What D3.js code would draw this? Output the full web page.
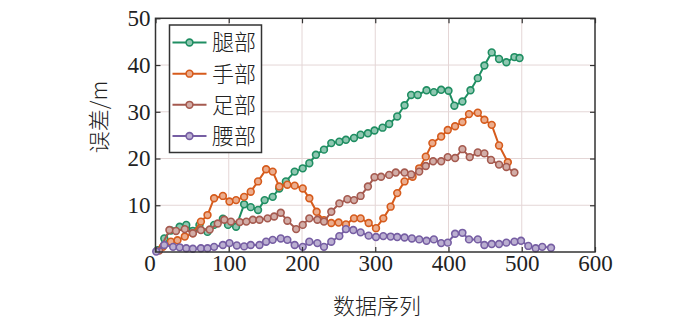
<!DOCTYPE html>
<html><head><meta charset="utf-8">
<script src="https://cdn.jsdelivr.net/npm/d3@7"></script>
<style>
html,body{margin:0;padding:0;background:#fff;}
svg{display:block;}
</style>
</head><body>
<svg id="chart" width="700" height="322"></svg>
<script>
const seriesNames = ["腿部", "手部", "足部", "腰部"];
const seriesColors = ["#1f8e62", "#d65b1c", "#a55a4f", "#765ea3"];

const legX = [3, 12, 21, 33, 42, 51, 60, 71, 80, 92, 99, 110, 121, 130, 140, 149, 160, 169, 178, 190, 201, 210, 219, 230, 240, 251, 260, 271, 280, 290, 299, 310, 319, 330, 340, 349, 358, 370, 380, 390, 400, 408, 419, 430, 440, 449, 459, 469, 479, 490, 497];
const legY = [0.4, 2.9, 4.6, 5.4, 5.8, 4.5, 5.8, 4.3, 5.8, 7.1, 5.8, 5.4, 10.2, 9.6, 9.0, 11.1, 11.8, 13.6, 15.1, 17.2, 17.9, 19.0, 20.8, 21.9, 23.3, 23.6, 24.0, 24.4, 25.1, 25.4, 26.0, 26.6, 27.4, 29.0, 31.4, 33.6, 33.6, 34.6, 34.2, 34.7, 34.5, 31.3, 32.2, 34.6, 37.2, 39.9, 42.7, 41.3, 40.6, 41.7, 41.5];

const handX = [10, 21, 30, 40, 51, 62, 71, 80, 92, 101, 110, 121, 130, 140, 151, 160, 169, 180, 190, 201, 210, 220, 230, 240, 250, 260, 271, 280, 291, 301, 311, 321, 330, 340, 351, 360, 369, 378, 390, 399, 409, 419, 428, 440, 449, 459, 469, 481];
const handY = [1.1, 2.2, 2.5, 3.3, 4.0, 6.5, 7.9, 11.5, 12.0, 10.8, 11.1, 11.8, 12.9, 15.1, 17.7, 17.2, 14.0, 14.4, 14.2, 13.6, 11.5, 8.6, 6.8, 6.2, 6.3, 5.9, 7.2, 7.2, 6.2, 5.1, 7.2, 9.7, 12.6, 15.1, 16.1, 17.9, 20.4, 23.3, 24.7, 26.1, 26.9, 27.8, 29.5, 29.8, 28.3, 27.2, 22.8, 19.2];

const footX = [5, 19, 28, 40, 51, 62, 74, 85, 94, 103, 115, 124, 133, 142, 153, 162, 171, 180, 192, 201, 210, 221, 230, 240, 251, 262, 271, 280, 290, 299, 308, 319, 328, 340, 349, 360, 369, 379, 390, 399, 409, 419, 429, 440, 449, 458, 469, 479, 490];
const footY = [0.3, 4.7, 4.5, 4.9, 4.0, 4.7, 4.8, 6.1, 6.9, 6.5, 6.4, 6.5, 6.9, 6.9, 7.2, 7.6, 8.4, 6.7, 4.9, 5.8, 7.2, 6.9, 6.5, 8.6, 10.4, 11.3, 11.1, 12.0, 14.0, 16.0, 16.1, 16.5, 17.0, 17.0, 16.6, 17.2, 18.4, 19.4, 19.4, 20.3, 20.1, 22.0, 20.3, 21.3, 21.1, 19.7, 18.7, 18.2, 17.0];

const waistX = [1, 12, 24, 33, 42, 51, 62, 71, 80, 92, 101, 111, 121, 130, 142, 151, 160, 171, 180, 190, 201, 210, 221, 230, 240, 251, 260, 270, 280, 291, 301, 311, 321, 330, 340, 350, 360, 370, 380, 390, 399, 409, 419, 428, 440, 449, 459, 469, 479, 490, 499, 509, 519, 528, 540];
const waistY = [0.1, 1.5, 1.1, 1.0, 0.8, 0.7, 0.8, 0.8, 1.1, 1.5, 1.9, 1.4, 1.2, 1.5, 1.5, 2.2, 2.6, 2.9, 2.6, 1.5, 1.1, 2.2, 1.9, 1.1, 2.2, 3.4, 4.9, 4.7, 4.2, 3.5, 3.2, 3.4, 3.3, 3.2, 3.1, 2.9, 2.7, 2.4, 2.7, 1.9, 2.0, 3.9, 4.1, 2.7, 2.7, 1.5, 1.7, 1.7, 2.0, 2.2, 2.4, 1.3, 0.8, 1.1, 0.9];

const xTickValues = [0, 100, 200, 300, 400, 500, 600];
const yTickValues = [10, 20, 30, 40, 50];
const xTitle = "数据序列";
const yTitle = "误差/m";

const seriesData = [
  d3.zip(legX, legY),
  d3.zip(handX, handY),
  d3.zip(footX, footY),
  d3.zip(waistX, waistY)
];

const svg = d3.select("#chart");
const L = 155.5, R = 595, T = 18.3, B = 252;
const x = d3.scaleLinear().domain([0, 600]).range([L, R]);
const y = d3.scaleLinear().domain([0, 50]).range([B, T]);

const numFont = "'Liberation Serif','Times New Roman',serif";
const cjkFont = "'Noto Sans CJK SC','Noto Sans CJK JP',sans-serif";

// grid
const grid = svg.append("g");
grid.selectAll("line.gx").data(xTickValues.filter(v => v > 0 && v < 600)).join("line")
  .attr("x1", d => x(d)).attr("x2", d => x(d)).attr("y1", T).attr("y2", B)
  .attr("stroke", "#e4d6d6").attr("stroke-width", 1);
grid.selectAll("line.gy").data(yTickValues.filter(v => v < 50)).join("line")
  .attr("y1", d => y(d)).attr("y2", d => y(d)).attr("x1", L).attr("x2", R)
  .attr("stroke", "#e4d6d6").attr("stroke-width", 1);

// series
const line = d3.line().x(d => x(d[0])).y(d => y(d[1]));
const tint = c => d3.interpolateRgb(c, "#ffffff")(0.5);
seriesData.forEach((data, i) => {
  const g = svg.append("g");
  g.append("path").datum(data).attr("d", line)
    .attr("fill", "none").attr("stroke", seriesColors[i]).attr("stroke-width", 2);
  g.selectAll("circle").data(data).join("circle")
    .attr("cx", d => x(d[0])).attr("cy", d => y(d[1])).attr("r", 3.4)
    .attr("fill", tint(seriesColors[i])).attr("stroke", seriesColors[i]).attr("stroke-width", 1.6);
});

// axes
const axB = svg.append("g").attr("transform", `translate(0,${B})`)
  .call(d3.axisBottom(x).tickValues(xTickValues).tickSize(-5).tickPadding(6).tickFormat(d3.format("d")));
const axT = svg.append("g").attr("transform", `translate(0,${T})`)
  .call(d3.axisTop(x).tickValues(xTickValues).tickSize(-5).tickFormat(""));
const axL = svg.append("g").attr("transform", `translate(${L},0)`)
  .call(d3.axisLeft(y).tickValues(yTickValues).tickSize(-5).tickPadding(5).tickFormat(d3.format("d")));
const axR = svg.append("g").attr("transform", `translate(${R},0)`)
  .call(d3.axisRight(y).tickValues(yTickValues).tickSize(-5).tickFormat(""));
[axB, axT, axL, axR].forEach(a => {
  a.select(".domain").remove();
  a.selectAll(".tick line").attr("stroke", "#333").attr("stroke-width", 1.2);
  a.selectAll("text").attr("font-family", numFont).attr("font-size", 23).attr("fill", "#222");
});
axB.selectAll(".tick text").attr("dy", "0.55em");
axB.selectAll(".tick").filter(d => d === 0).select("text").attr("dx", -6);
svg.append("rect").attr("x", L).attr("y", T).attr("width", R - L).attr("height", B - T)
  .attr("fill", "none").attr("stroke", "#333").attr("stroke-width", 1.5);

// titles
svg.append("text").attr("x", 377).attr("y", 314).attr("text-anchor", "middle")
  .attr("font-family", cjkFont).attr("font-size", 22).attr("font-weight", 300).attr("fill", "#222").text(xTitle);
svg.append("text").attr("transform", "translate(107,117) rotate(-90)").attr("text-anchor", "middle")
  .attr("font-family", cjkFont).attr("font-size", 22).attr("font-weight", 300).attr("fill", "#222").text(yTitle);

// legend
const leg = svg.append("g");
leg.append("rect").attr("x", 169.5).attr("y", 25).attr("width", 92).attr("height", 127.5)
  .attr("fill", "#fff").attr("stroke", "#333").attr("stroke-width", 1.5);
const legRowY = d3.scalePoint().domain(seriesNames).range([42.5, 136]);
seriesNames.forEach((name, i) => {
  const yy = legRowY(name);
  leg.append("line").attr("x1", 172.5).attr("x2", 206.5).attr("y1", yy).attr("y2", yy)
    .attr("stroke", seriesColors[i]).attr("stroke-width", 2);
  leg.append("circle").attr("cx", 189.5).attr("cy", yy).attr("r", 3.4)
    .attr("fill", tint(seriesColors[i])).attr("stroke", seriesColors[i]).attr("stroke-width", 1.6);
  leg.append("text").attr("x", 212).attr("y", yy).attr("dy", "0.36em")
    .attr("font-family", cjkFont).attr("font-size", 22).attr("font-weight", 300).attr("fill", "#222").text(name);
});
</script>
</body></html>
